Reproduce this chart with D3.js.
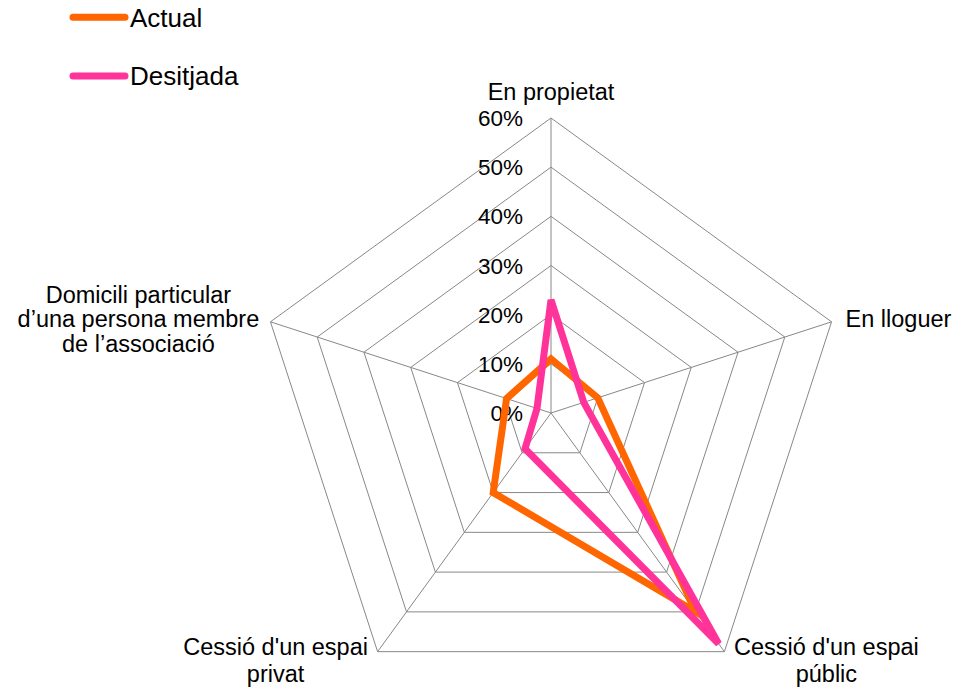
<!DOCTYPE html>
<html>
<head>
<meta charset="utf-8">
<script src="https://cdn.jsdelivr.net/npm/d3@7"></script>
<style>
  html, body { margin: 0; padding: 0; background: #fff; }
  svg { display: block; font-family: "Liberation Sans", Arial, sans-serif; }
</style>
</head>
<body>
<svg id="chart" width="955" height="692"></svg>
<script>
// ---- data ----
const categories = [
  ["En propietat"],
  ["En lloguer"],
  ["Cessió d'un espai", "públic"],
  ["Cessió d'un espai", "privat"],
  ["Domicili particular", "d’una persona membre", "de l’associació"]
];
const seriesNames = ["Actual", "Desitjada"];
const actual    = [0.11, 0.10, 0.50, 0.20, 0.095];
const desitjada = [0.23, 0.07, 0.58, 0.09, 0.03];
const tickValues = [0, 0.1, 0.2, 0.3, 0.4, 0.5, 0.6];
const tickLabels = ["0%", "10%", "20%", "30%", "40%", "50%", "60%"];
const colors = ["#FF6600", "#FF3399"];

// ---- layout ----
const svg = d3.select("#chart");
const cx = 551, cy = 413, R = 295;
const n = categories.length;
const r = d3.scaleLinear().domain([0, 0.6]).range([0, R]);
const angle = d3.scaleLinear().domain([0, n]).range([0, 2 * Math.PI]);
const pt = (i, v) => [cx + r(v) * Math.sin(angle(i)), cy - r(v) * Math.cos(angle(i))];

const g = svg.append("g");
const gridColor = "#888888";

// rings
tickValues.filter(v => v > 0).forEach(v => {
  const pts = d3.range(n).map(i => pt(i, v));
  g.append("polygon")
    .attr("points", pts.map(p => p.join(",")).join(" "))
    .attr("fill", "none")
    .attr("stroke", gridColor)
    .attr("stroke-width", 1);
});
// spokes
d3.range(n).forEach(i => {
  const p = pt(i, 0.6);
  g.append("line")
    .attr("x1", cx).attr("y1", cy)
    .attr("x2", p[0]).attr("y2", p[1])
    .attr("stroke", gridColor).attr("stroke-width", 1);
});

// tick labels
g.selectAll("text.tick").data(tickValues).enter().append("text")
  .attr("class", "tick")
  .attr("x", cx - 28)
  .attr("y", d => cy - r(d) + 8)
  .attr("text-anchor", "end")
  .attr("font-size", 22.5)
  .attr("fill", "#000")
  .text((d, i) => tickLabels[i]);

// series lines
const line = d3.lineRadial()
  .angle((d, i) => angle(i))
  .radius(d => r(d))
  .curve(d3.curveLinearClosed);
[actual, desitjada].forEach((s, k) => {
  g.append("path")
    .attr("transform", `translate(${cx},${cy})`)
    .attr("d", line(s))
    .attr("fill", "none")
    .attr("stroke", colors[k])
    .attr("stroke-width", 7)
    .attr("stroke-linejoin", "miter");
});

// category labels
const labelFs = 23.5;
const labelPos = [
  { dx: 0,   dy: -18, anchor: "middle", lh: 25 },
  { dx: 14,  dy: 5,   anchor: "start",  lh: 25 },
  { dx: 102, dy: 3,   anchor: "middle", lh: 27.5 },
  { dx: -102, dy: 3,  anchor: "middle", lh: 27.5 },
  { dx: -132, dy: -19, anchor: "middle", lh: 24.5 }
];
categories.forEach((lines, i) => {
  const p = pt(i, 0.6);
  const lp = labelPos[i];
  const t = g.append("text")
    .attr("x", p[0] + lp.dx)
    .attr("y", p[1] + lp.dy)
    .attr("text-anchor", lp.anchor)
    .attr("font-size", labelFs)
    .attr("fill", "#000");
  lines.forEach((ln, j) => {
    t.append("tspan")
      .attr("x", p[0] + lp.dx)
      .attr("dy", j === 0 ? 0 : lp.lh)
      .text(ln);
  });
});

// legend
const legend = svg.append("g");
seriesNames.forEach((name, k) => {
  const y = 17.3 + k * 58.7;
  legend.append("line")
    .attr("x1", 73).attr("x2", 125)
    .attr("y1", y).attr("y2", y)
    .attr("stroke", colors[k])
    .attr("stroke-width", 7)
    .attr("stroke-linecap", "round");
  legend.append("text")
    .attr("x", 130).attr("y", y + 9.3)
    .attr("font-size", 26)
    .attr("fill", "#000")
    .text(name);
});
</script>
</body>
</html>
